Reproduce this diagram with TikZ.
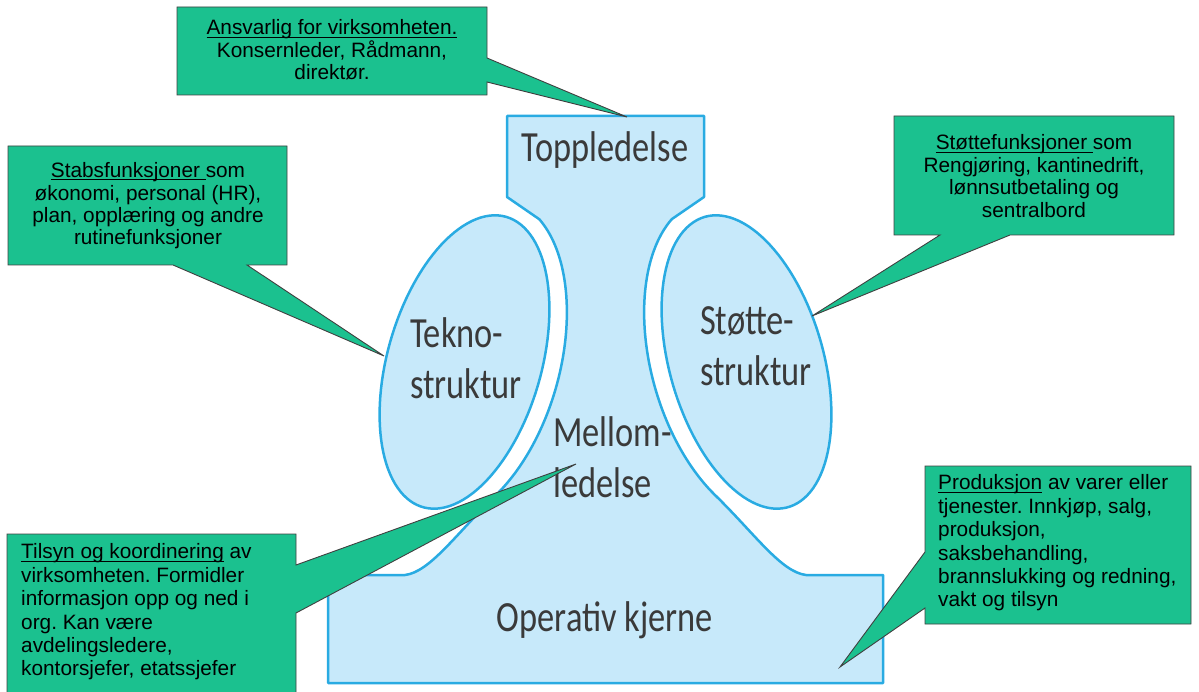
\documentclass[tikz,border=0pt]{standalone}
\usepackage{fontspec}
\setmainfont{Liberation Sans}
\newfontfamily\labelfont[FakeStretch=0.80]{Carlito}
\definecolor{calloutgreen}{RGB}{27,193,143}
\definecolor{paleblue}{RGB}{199,233,250}
\definecolor{lineblue}{RGB}{41,171,226}
\definecolor{labelgray}{RGB}{58,58,58}
% underline that sits just below the baseline
\newcommand\myul[1]{\setbox0\hbox{#1}\rlap{\rule[-2.6pt]{\wd0}{0.9pt}}\box0\relax}
\begin{document}
\frenchspacing
\begin{tikzpicture}[x=1pt,y=-1pt,
  part/.style={fill=paleblue, draw=lineblue, line width=2.5pt, line join=round},
  callout/.style={fill=calloutgreen, draw=black!75, line width=0.9pt, line join=miter},
  notetext/.style={font=\fontsize{20.8}{22.4}\selectfont, text=black, inner sep=0pt},
  notetextb/.style={font=\fontsize{20.8}{23.4}\selectfont, text=black, inner sep=0pt, align=left, anchor=west},
  parttext/.style={font=\labelfont\fontsize{43}{51}\selectfont, text=labelgray, inner sep=0pt, align=left},
]
\useasboundingbox (0,0) rectangle (1199,692);
\clip (0,0) rectangle (1199,692);

% organisation body: strategic apex, middle line and operating core
\path[part] (507,116) -- (704,116) -- (704,197) -- (672,219)
  -- plot[domain=20:135, samples=60, variable=\t]
     ({746.5 - 168*cos(\t)*0.2756 - 95*sin(\t)*0.9613},
      {362 - 168*cos(\t)*0.9613 + 95*sin(\t)*0.2756})
  .. controls (755,534) and (781,572) .. (806,575)
  -- (883,575) -- (883,683) -- (328,683) -- (328,575) -- (405,575)
  .. controls (430,572) and (456,534) .. (496.3,494.7)
  -- plot[domain=135:20, samples=60, variable=\t]
     ({464.5 + 168*cos(\t)*0.2756 + 95*sin(\t)*0.9613},
      {362 - 168*cos(\t)*0.9613 + 95*sin(\t)*0.2756})
  -- (507,197) -- cycle;

% technostructure (left) and support staff (right)
\path[part] plot[domain=0:360, samples=120, variable=\t]
  ({464.5 + 151*cos(\t)*0.2756 + 77*sin(\t)*0.9613},
   {362 - 151*cos(\t)*0.9613 + 77*sin(\t)*0.2756}) -- cycle;
\path[part] plot[domain=0:360, samples=120, variable=\t]
  ({746.5 - 151*cos(\t)*0.2756 - 77*sin(\t)*0.9613},
   {362 - 151*cos(\t)*0.9613 + 77*sin(\t)*0.2756}) -- cycle;

% part labels
\node[parttext] (top) at (605,150) {Toppledelse};
\node[parttext, anchor=west] (tekno) at (410,358) {Tekno-\\struktur};
\node[parttext, anchor=west] (stotte) at (700,346) {Støtte-\\struktur};
\node[parttext, anchor=west] (mellom) at (553,457) {Mellom-\\ledelse};
\node[parttext] (kjerne) at (605,620) {Operativ kjerne};

% callout pointer tips
\coordinate (tipTop) at (627,117);
\coordinate (tipStab) at (384,356);
\coordinate (tipStotte) at (812,316);
\coordinate (tipTilsyn) at (576,464);
\coordinate (tipProd) at (840,667);

% callouts
\path[callout] (177,7) -- (487,7) -- (487,58) -- (tipTop) -- (487,82)
  -- (487,95) -- (177,95) -- cycle;
\node[notetext, align=center] (noteTop) at (332,50)
  {\myul{Ansvarlig for virksomheten.}\\Konsernleder, Rådmann,\\direktør.};

\path[callout] (8,146) -- (287,146) -- (287,265) -- (247,265) -- (tipStab)
  -- (173,265) -- (8,265) -- cycle;
\node[notetext, align=center] (noteStab) at (148,206)
  {\myul{Stabsfunksjoner\ }som\\økonomi, personal (HR),\\plan, opplæring og andre\\rutinefunksjoner};

\path[callout] (894,116) -- (1174,116) -- (1174,235) -- (1010,235) -- (tipStotte)
  -- (940,235) -- (894,235) -- cycle;
\node[notetext, align=center] (noteStotte) at (1034,176)
  {\myul{Støttefunksjoner\ }som\\Rengjøring, kantinedrift,\\lønnsutbetaling og\\sentralbord};

\path[callout] (7,534) -- (296,534) -- (296,565) -- (tipTilsyn) -- (296,613)
  -- (296,700) -- (7,700) -- cycle;
\node[notetextb] (noteTilsyn) at (21,612)
  {\myul{Tilsyn og koordinering} av\\virksomheten. Formidler\\informasjon opp og ned i\\org. Kan være\\avdelingsledere,\\kontorsjefer, etatssjefer};

\path[callout] (925,466) -- (1191,466) -- (1191,624) -- (925,624) -- (925,608)
  -- (tipProd) -- (925,552) -- cycle;
\node[notetextb] (noteProd) at (938,543)
  {\myul{Produksjon} av varer eller\\tjenester. Innkjøp, salg,\\produksjon,\\saksbehandling,\\brannslukking og redning,\\vakt og tilsyn};
\end{tikzpicture}
\end{document}
